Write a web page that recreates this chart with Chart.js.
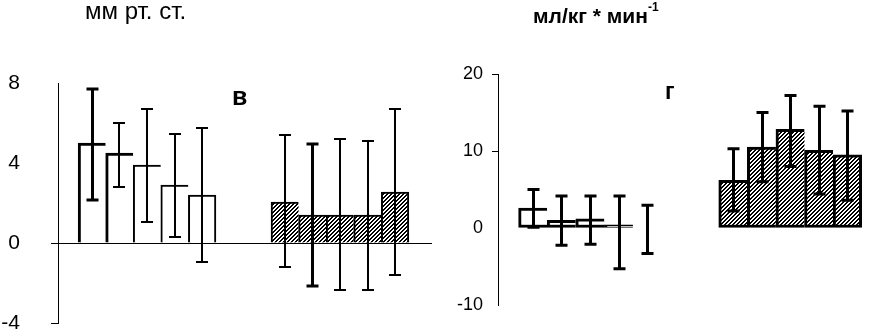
<!DOCTYPE html>
<html>
<head>
<meta charset="utf-8">
<script src="https://cdn.jsdelivr.net/npm/chart.js@4"></script>
<style>
  body { margin: 0; background: #fff; }
  #wrap { position: relative; width: 881px; height: 336px; font-family: "Liberation Sans", Arial, sans-serif; color: #000; }
  .panel { position: absolute; top: 0; }
  .txt { position: absolute; white-space: nowrap; line-height: 1; }
</style>
</head>
<body>
<div id="wrap">
  <div class="panel" style="left:0"><canvas id="chartV" width="440" height="336"></canvas></div>
  <div class="panel" style="left:440px"><canvas id="chartG" width="441" height="336"></canvas></div>
  <div class="txt" style="left:85px; top:-1px; font-size:24px;">мм рт. ст.</div>
  <div class="txt" style="left:533px; top:5px; font-size:21px; font-weight:bold;">мл/кг * мин<sup style="font-size:12px; position:relative; top:-4px; vertical-align:top;">-1</sup></div>
  <div class="txt" style="left:232px; top:84px; font-size:25px; font-weight:bold;">в</div>
  <div class="txt" style="left:665px; top:80px; font-size:23px; font-weight:bold;">г</div>
</div>
<script>
// slot index of each bar along x (two groups of five)
const slotsA = [1, 2, 3, 4, 5];
const slotsB = [8, 9, 10, 11, 12];

// panel "в", мм рт. ст.
const vWhite = [5.0, 4.5, 3.9, 2.9, 2.4];
const vWhiteHi = [7.7, 6.0, 6.7, 5.45, 5.75];
const vWhiteLo = [2.15, 2.8, 1.05, 0.3, -0.95];
const vHatch = [2.05, 1.4, 1.4, 1.4, 2.55];
const vHatchHi = [5.4, 4.95, 5.2, 5.1, 6.7];
const vHatchLo = [-1.2, -2.15, -2.35, -2.35, -1.6];
const vTicks = [-4, 0, 4, 8];

// panel "г", мл/кг * мин-1
const gWhite = [2.6, 1.0, 1.2, 0.4, 0];
const gWhiteHi = [5.0, 4.15, 4.15, 4.15, 2.95];
const gWhiteLo = [0.1, -2.25, -2.1, -5.3, -3.3];
const gHatch = [6.2, 10.5, 12.8, 10.1, 9.5];
const gHatchHi = [10.3, 15.0, 17.2, 15.8, 15.2];
const gHatchLo = [2.2, 6.0, 8.0, 4.4, 3.6];
const gTicks = [-10, 0, 10, 20];

// diagonal hatch
const pc = document.createElement('canvas');
pc.width = 4; pc.height = 4;
const pctx = pc.getContext('2d');
pctx.fillStyle = '#fff';
pctx.fillRect(0, 0, 4, 4);
pctx.fillStyle = '#000';
for (let x = 0; x < 4; x++) {
    for (let y = 0; y < 4; y++) {
        if ((x + y) % 4 < 2) pctx.fillRect(x, y, 1, 1);
    }
}
const hatch = pctx.createPattern(pc, 'repeat');

function points(xs, ys) {
    return xs.map((x, i) => ({ x: x, y: ys[i] }));
}

const errorBars = {
    id: 'errorBars',
    afterDatasetsDraw(chart) {
        const ctx = chart.ctx;
        const yScale = chart.scales.y;
        chart.data.datasets.forEach((ds, di) => {
            const meta = chart.getDatasetMeta(di);
            ctx.save();
            ctx.strokeStyle = '#000';
            meta.data.forEach((bar, i) => {
                const w = Array.isArray(ds.errWidth) ? ds.errWidth[i] : ds.errWidth;
                ctx.lineWidth = w;
                const top = yScale.getPixelForValue(ds.errHi[i]);
                const bot = yScale.getPixelForValue(ds.errLo[i]);
                const x = Math.round(bar.x) + (w % 2 ? 0.5 : 0);
                ctx.beginPath();
                ctx.moveTo(x, top);
                ctx.lineTo(x, bot);
                ctx.moveTo(x - 6, top);
                ctx.lineTo(x + 6, top);
                ctx.moveTo(x - 6, bot);
                ctx.lineTo(x + 6, bot);
                ctx.stroke();
            });
            ctx.restore();
        });
    }
};

function makeChart(id, cfg) {
    const last = cfg.sets.map(s => s.y.length - 1);
    return new Chart(document.getElementById(id), {
        type: 'bar',
        data: {
            datasets: cfg.sets.map((s, si) => ({
                data: points(s.x, s.y),
                errHi: s.hi,
                errLo: s.lo,
                errWidth: s.errWidth,
                backgroundColor: s.fill,
                borderColor: '#000',
                borderSkipped: false,
                borderWidth: (c) => {
                    if (c.raw && c.raw.y === 0) return 0;
                    const w = Array.isArray(s.border) ? s.border[c.dataIndex] : s.border;
                    return {
                        top: w,
                        left: w,
                        right: c.dataIndex === last[si] ? w : 0,
                        bottom: cfg.bottomBorder ? w : 0
                    };
                },
                grouped: false,
                barPercentage: 1,
                categoryPercentage: 1
            }))
        },
        options: {
            responsive: false,
            animation: false,
            layout: { padding: cfg.padding },
            plugins: { legend: { display: false }, tooltip: { enabled: false } },
            scales: {
                x: {
                    type: 'linear',
                    min: cfg.xMin,
                    max: cfg.xMax,
                    offset: false,
                    display: false
                },
                y: {
                    min: cfg.ticks[0],
                    max: cfg.ticks[cfg.ticks.length - 1],
                    afterBuildTicks: (s) => { s.ticks = cfg.ticks.map(v => ({ value: v })); },
                    afterFit: (s) => {
                        s.width = 58;
                        s.paddingTop = 0;
                        s.paddingBottom = 0;
                    },
                    border: { display: true, color: '#000', width: 1 },
                    grid: {
                        color: cfg.gridColor,
                        tickColor: cfg.tickColor,
                        tickLength: cfg.tickLength,
                        lineWidth: 1
                    },
                    ticks: {
                        color: '#000',
                        padding: cfg.labelPad,
                        font: { family: '"Liberation Sans", Arial, sans-serif', size: cfg.fontSize }
                    }
                }
            }
        },
        plugins: [errorBars]
    });
}

makeChart('chartV', {
    sets: [
        { x: slotsA, y: vWhite, hi: vWhiteHi, lo: vWhiteLo, fill: '#fff', border: [3, 3, 2, 2, 2], errWidth: [3, 2, 2, 2, 2] },
        { x: slotsB, y: vHatch, hi: vHatchHi, lo: vHatchLo, fill: hatch, border: 2, errWidth: [2, 3, 2, 2, 2] }
    ],
    ticks: vTicks,
    xMin: -0.23,
    xMax: 13.34,
    padding: { left: 0, right: 8, top: 83, bottom: 13 },
    bottomBorder: false,
    gridColor: (c) => c.tick && c.tick.value === 0 ? '#000' : 'rgba(0,0,0,0)',
    tickColor: (c) => c.tick && (c.tick.value === 0 || c.tick.value === -4) ? '#000' : 'rgba(0,0,0,0)',
    tickLength: 7,
    labelPad: 31,
    fontSize: 21
});

makeChart('chartG', {
    sets: [
        { x: slotsA, y: gWhite, hi: gWhiteHi, lo: gWhiteLo, fill: '#fff', border: 3, errWidth: 3 },
        { x: slotsB, y: gHatch, hi: gHatchHi, lo: gHatchLo, fill: hatch, border: 3, errWidth: 3 }
    ],
    ticks: gTicks,
    xMin: -0.22,
    xMax: 12.58,
    padding: { left: 0, right: 17, top: 74, bottom: 31 },
    bottomBorder: true,
    gridColor: 'rgba(0,0,0,0)',
    tickColor: (c) => c.tick && (c.tick.value === 20 || c.tick.value === 10) ? '#000' : 'rgba(0,0,0,0)',
    tickLength: 6,
    labelPad: 9,
    fontSize: 18
});
</script>
</body>
</html>
